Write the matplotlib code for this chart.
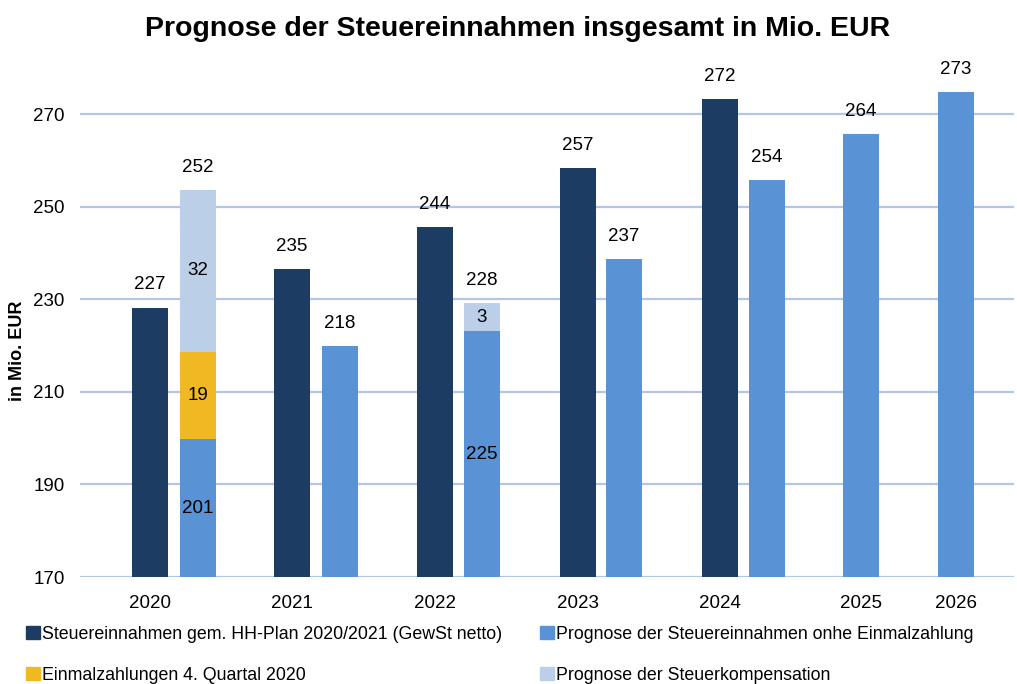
import matplotlib
matplotlib.use('Agg')
import matplotlib.pyplot as plt
from matplotlib.patches import Patch

plt.rcParams['font.family'] = ['Liberation Sans', 'DejaVu Sans']

# data
years = ['2020', '2021', '2022', '2023', '2024', '2025', '2026']
plan = [228.2, 236.5, 245.6, 258.3, 273.2]          # 2020-2024
plan_labels = ['227', '235', '244', '257', '272']
prognose = [199.7, 219.9, 223.1, 238.7, 255.7, 265.7, 274.8]
einmal = [19.0, 0, 0, 0, 0, 0, 0]
kompensation = [34.8, 0, 6.0, 0, 0, 0, 0]
total_labels = ['252', '218', '228', '237', '254', '264', '273']
prognose_inner = ['201', '', '225', '', '', '', '']
einmal_inner = ['19', '', '', '', '', '', '']
komp_inner = ['32', '', '3', '', '', '', '']

series_names = ['Steuereinnahmen gem. HH-Plan 2020/2021 (GewSt netto)',
                'Einmalzahlungen 4. Quartal 2020',
                'Prognose der Steuereinnahmen onhe Einmalzahlung',
                'Prognose der Steuerkompensation']

# layout (x in pixel-like units of the axes)
plan_x = [150, 291.5, 434.5, 578, 720]
prog_x = [198, 339.5, 482, 624, 767, 861, 956]
tick_x = [150, 291.5, 434.5, 578, 720, 861, 956]
w = 36

c_plan = '#1d3c63'
c_prog = '#5993d6'
c_einmal = '#f0b823'
c_komp = '#bccfe8'
grid_c = '#b4c6e6'

fig = plt.figure(figsize=(10.17, 6.84), dpi=100)
ax = fig.add_axes([80 / 1017, 1 - 577 / 684, (1014 - 80) / 1017, (577 - 67.7) / 684])

ax.bar(plan_x, plan, width=w, color=c_plan, zorder=3)
ax.bar(prog_x, prognose, width=w, color=c_prog, zorder=3)
bottom2 = [p + e for p, e in zip(prognose, einmal)]
ax.bar(prog_x, einmal, width=w, bottom=prognose, color=c_einmal, zorder=3)
ax.bar(prog_x, kompensation, width=w, bottom=bottom2, color=c_komp, zorder=3)

fs = 13.5
for x, v, l in zip(plan_x, plan, plan_labels):
    ax.annotate(l, (x, v), xytext=(0, 13), textcoords='offset points',
                ha='center', va='baseline', fontsize=fs)
for i, x in enumerate(prog_x):
    top = prognose[i] + einmal[i] + kompensation[i]
    ax.annotate(total_labels[i], (x, top), xytext=(0, 13), textcoords='offset points',
                ha='center', va='baseline', fontsize=fs)
    if prognose_inner[i]:
        ax.text(x, (170 + prognose[i]) / 2, prognose_inner[i], ha='center', va='center', fontsize=fs, zorder=4)
    if einmal_inner[i]:
        ax.text(x, prognose[i] + einmal[i] / 2, einmal_inner[i], ha='center', va='center', fontsize=fs, zorder=4)
    if komp_inner[i]:
        ax.text(x, bottom2[i] + kompensation[i] / 2, komp_inner[i], ha='center', va='center', fontsize=fs, zorder=4)

ax.set_xlim(80, 1014)
ax.set_ylim(170, 280)
ax.set_yticks(range(170, 271, 20))
ax.set_xticks(tick_x)
ax.set_xticklabels(years)
ax.tick_params(length=0, labelsize=fs)
ax.tick_params(axis='y', pad=11)
ax.tick_params(axis='x', pad=13)
ax.grid(axis='y', color=grid_c, linewidth=1.6, zorder=0)
for s in ax.spines.values():
    s.set_visible(False)

fig.text(518 / 1017, 1 - 29 / 684, 'Prognose der Steuereinnahmen insgesamt in Mio. EUR',
         ha='center', va='center', fontsize=20.5, fontweight='bold')
fig.text(18 / 1017, 1 - 351 / 684, 'in Mio. EUR', rotation=90, ha='center', va='center',
         fontsize=13, fontweight='bold')

handles = [Patch(color=c) for c in (c_plan, c_einmal, c_prog, c_komp)]
common = dict(frameon=False, fontsize=12.8, handlelength=0.78, handleheight=0.78,
              handletextpad=0.1, labelspacing=1.35, borderpad=0, borderaxespad=0, loc='upper left')
fig.legend(handles[:2], series_names[:2], bbox_to_anchor=(26 / 1017, 1 - 626 / 684), **common)
fig.legend(handles[2:], series_names[2:], bbox_to_anchor=(540 / 1017, 1 - 626 / 684), **common)

fig.savefig('out.png', dpi=100)
